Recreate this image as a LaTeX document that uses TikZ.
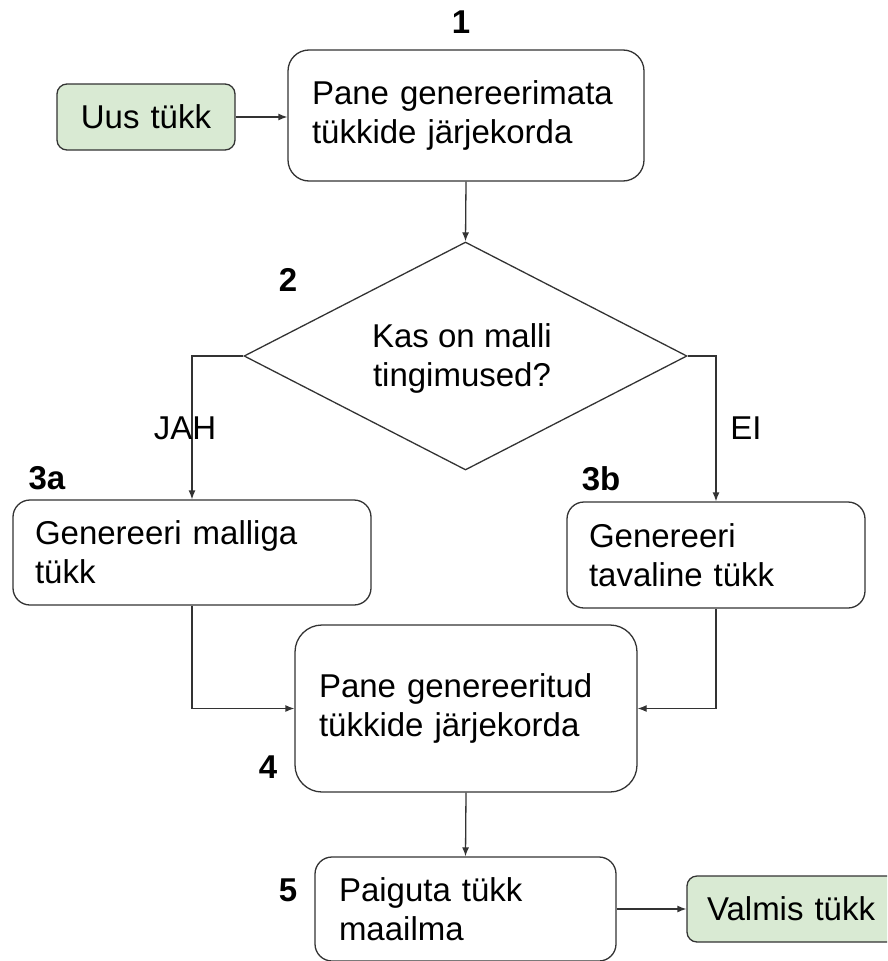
\documentclass[tikz,border=0pt]{standalone}
\usepackage{fontspec}
\setmainfont{Liberation Sans}
\usetikzlibrary{shapes.geometric,arrows.meta}
\definecolor{lgreen}{HTML}{D9EAD3}
\definecolor{edge}{HTML}{333333}
\tikzset{
  base/.style={draw=edge,line width=1.3pt,font=\fontsize{33}{39}\selectfont,inner ysep=0pt},
  procbox/.style={base,rectangle,align=left},
  termbox/.style={base,rectangle,fill=lgreen,rounded corners=10pt,align=left,inner xsep=20pt},
  numlabel/.style={font=\fontsize{33}{39}\selectfont\bfseries,inner sep=0pt},
  branchlabel/.style={font=\fontsize{33}{39}\selectfont,inner sep=0pt},
  plaintext/.style={font=\fontsize{33}{39}\selectfont,inner sep=0pt,align=center},
  conn/.style={draw=edge,line width=1.3pt,-{Latex[length=9pt,width=7pt]}}
}
\begin{document}
\begin{tikzpicture}[x=1pt,y=-1pt]
\useasboundingbox (0,0) rectangle (887,961);
\clip (0,0) rectangle (887,961);
% terminals
\node[termbox,minimum width=178pt,minimum height=66pt,text width=138pt,align=center] (uus) at (146,117) {Uus tükk};
\node[termbox,minimum width=210pt,minimum height=66pt,text width=170pt] (valmis) at (792,909) {Valmis tükk};
% process boxes
\node[procbox,rounded corners=21pt,minimum height=131pt,text width=308pt,inner xsep=24pt] (b1) at (466,115.5) {Pane genereerimata\\tükkide järjekorda};
\node[draw=edge,line width=1.3pt,diamond,minimum width=443pt,minimum height=228pt,inner sep=0pt] (dia) at (465.5,356) {};
\node[plaintext] (diatext) at (462,358) {Kas on malli\\tingimused?};
\node[procbox,rounded corners=17pt,minimum height=105pt,text width=314pt,inner xsep=22pt] (b3a) at (192,552.5) {Genereeri malliga\\tükk};
\node[procbox,rounded corners=17pt,minimum height=106pt,text width=254pt,inner xsep=22pt] (b3b) at (716,555) {Genereeri\\tavaline tükk};
\node[procbox,rounded corners=27pt,minimum height=167pt,text width=294pt,inner xsep=24pt] (b4) at (466,708.5) {Pane genereeritud\\tükkide järjekorda};
\node[procbox,rounded corners=17pt,minimum height=104pt,text width=253pt,inner xsep=24pt] (b5) at (465.5,909) {Paiguta tükk\\maailma};
% labels
\node[numlabel] (l1) at (461,22) {1};
\node[numlabel] (l2) at (288,280) {2};
\node[numlabel] (l3a) at (47,478) {3a};
\node[numlabel] (l3b) at (601,479) {3b};
\node[numlabel] (l4) at (268,767) {4};
\node[numlabel] (l5) at (288,890) {5};
% connectors
\draw[conn] (uus.east) -- (uus.east -| b1.west);
\draw[conn] (b1.south) -- (dia.north);
\draw[conn] (dia.west) -| (b3a.north);
\draw[conn] (dia.east) -| (b3b.north);
\draw[conn] (b3a.south) |- (b4.west);
\draw[conn] (b3b.south) |- (b4.east);
\draw[conn] (b4.south) -- (b5.north);
\draw[conn] (b5.east |- valmis.west) -- (valmis.west);
% branch labels
\node[branchlabel] (jah) at (185,428.5) {JAH};
\node[branchlabel] (ei) at (746,428.5) {EI};
\end{tikzpicture}
\end{document}
